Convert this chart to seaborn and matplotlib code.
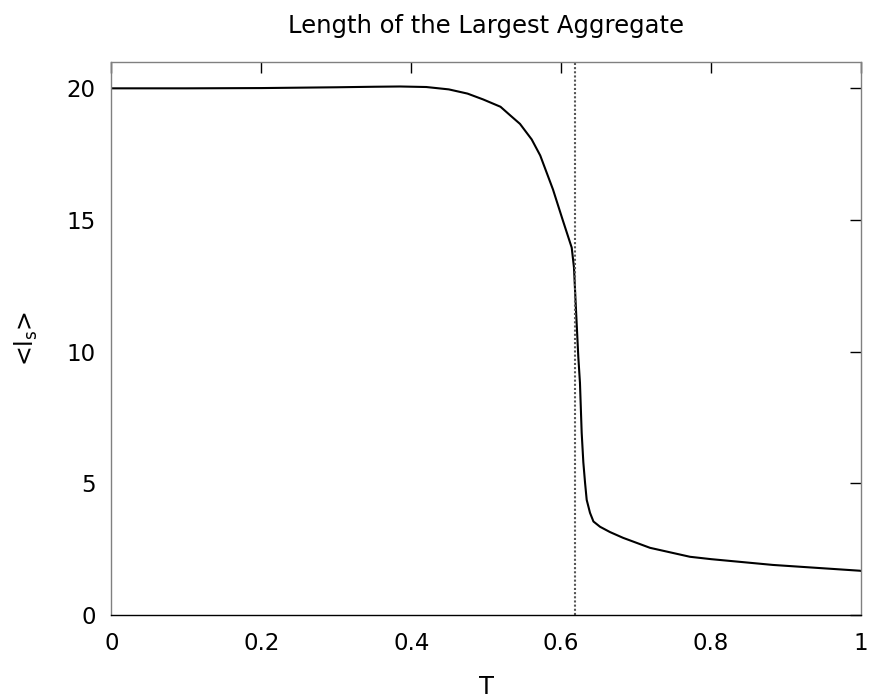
import matplotlib
matplotlib.use("Agg")
import matplotlib.pyplot as plt
import seaborn as sns
import pandas as pd

T = [0.0, 0.1, 0.2, 0.3, 0.35, 0.385, 0.42, 0.45, 0.475, 0.4957, 0.519, 0.5317,
     0.545, 0.5606, 0.572, 0.589, 0.602, 0.614, 0.617, 0.6197, 0.6228, 0.625,
     0.6273, 0.6295, 0.6318, 0.634, 0.6384, 0.643, 0.6518, 0.665, 0.6825, 0.7185,
     0.7718, 0.80, 0.8826, 0.9987, 1.0]
ls = [20.0, 20.0, 20.01, 20.04, 20.06, 20.07, 20.05, 19.96, 19.8, 19.58, 19.3, 18.98,
      18.65, 18.06, 17.45, 16.16, 15.0, 13.95, 13.2, 11.6, 9.8, 8.82,
      6.92, 5.8, 5.02, 4.37, 3.88, 3.55, 3.35, 3.15, 2.93, 2.55,
      2.21, 2.12, 1.9, 1.68, 1.67]
T_c = 0.618
xticks = [0, 0.2, 0.4, 0.6, 0.8, 1]
xticklabels = ["0", "0.2", "0.4", "0.6", "0.8", "1"]
yticks = [0, 5, 10, 15, 20]

df = pd.DataFrame({"T": T, "ls": ls})

sns.set_theme(style="white")
plt.rcParams["font.family"] = ["DejaVu Sans"]

fig = plt.figure(figsize=(8.73, 6.99), dpi=100)
ax = fig.add_axes([0.1277, 0.1202, 0.9863 - 0.1277, 0.9113 - 0.1202])

sns.lineplot(data=df, x="T", y="ls", ax=ax, color="black", linewidth=1.5)
ax.axvline(T_c, color="#555555", linestyle=(0, (1, 1)), linewidth=1.5)

ax.set_xlim(0, 1)
ax.set_ylim(0, 21)
ax.set_xticks(xticks)
ax.set_xticklabels(xticklabels)
ax.set_yticks(yticks)
ax.tick_params(direction="in", length=8, width=1, top=True, right=True,
               labelsize=16.5, color="black", labelcolor="black")
ax.tick_params(axis="x", pad=12)
ax.tick_params(axis="y", pad=11.5)
for name, s in ax.spines.items():
    s.set_visible(True)
    s.set_linewidth(1.0)
    s.set_color("black" if name == "bottom" else "#808080")

ax.set_xlabel("T", fontsize=17.5, color="black", labelpad=15)
ax.set_ylabel(r"<l$_\mathregular{s}$>", fontsize=17, color="black", labelpad=19)
ax.set_title("Length of the Largest Aggregate", fontsize=17.5, color="black", pad=21)

fig.savefig("out.png", dpi=100, facecolor="white")
